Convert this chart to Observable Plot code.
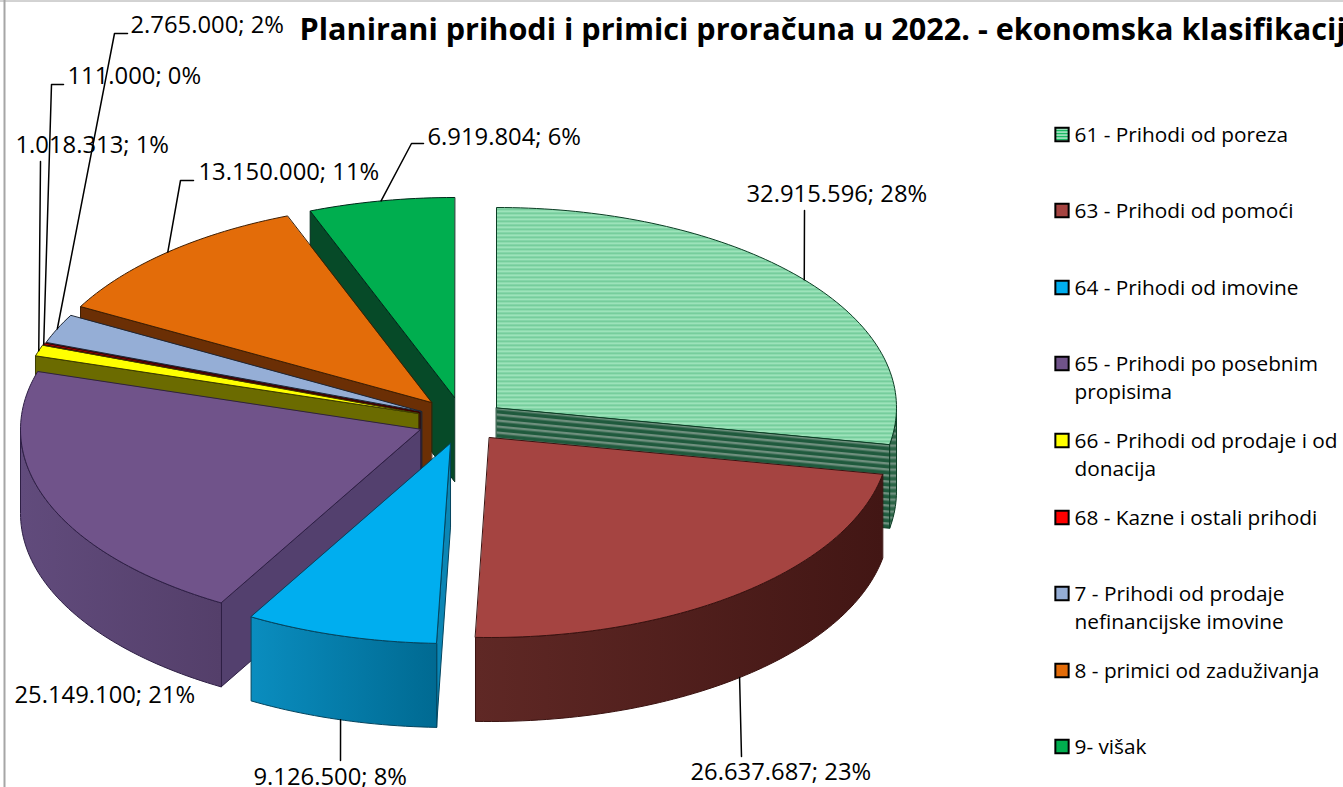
<!DOCTYPE html>
<html>
<head>
<meta charset="utf-8">
<script src="https://cdn.jsdelivr.net/npm/d3@7"></script>
<script src="https://cdn.jsdelivr.net/npm/@observablehq/plot@0.6"></script>
<style>html,body{margin:0;padding:0;background:#fff;overflow:hidden}</style>
</head>
<body>
<div id="chart"></div>
<script>
// ---- data ----
const codes = ["61","63","64","65","66","68","7","8","9"];
const values = [32915596,26637687,9126500,25149100,1018313,111000,2765000,13150000,6919804];
const valueLabels = ["32.915.596; 28%","26.637.687; 23%","9.126.500; 8%","25.149.100; 21%","1.018.313; 1%","111.000; 0%","2.765.000; 2%","13.150.000; 11%","6.919.804; 6%"];
const legendLabels = ["61 - Prihodi od poreza","63 - Prihodi od pomoći","64 - Prihodi od imovine","65 - Prihodi po posebnim\npropisima","66 - Prihodi od prodaje i od\ndonacija","68 - Kazne i ostali prihodi","7 - Prihodi od prodaje\nnefinancijske imovine","8 - primici od zaduživanja","9- višak"];
const title = "Planirani prihodi i primici proračuna u 2022. - ekonomska klasifikacija";

// ---- style ----
const topFill = ["url(#stripeTop)","#a54441","#00aeef","#70538a","#ffff00","#ff0000","#95aed6","#e36c09","#00ae4f"];
const wallFill = ["url(#stripeWall)","url(#wall63)","url(#wall64)","url(#wall65)","#6b6b00","#400000","#1c2028","#6b2f05","#064a28"];
const cutFill  = ["url(#stripeCut)","#4a1c1a","#0b86b5","#53406e","#6b6b00","#400000","#1c2028","#6b2f05","#064a28"];
const edge     = ["#0b3d24","#3a1210","#04455f","#2e1f45","#3c3c00","#400000","#1d2635","#3f1e02","#00291a"];
const legendFill = ["url(#stripeLegend)","#a54441","#00aeef","#70538a","#ffff00","#ff0000","#95aed6","#e36c09","#00ae4f"];

// ---- layout ----
const rx = 400, ry = 200, depth = 84;
const centerX = [496,489,450,420,418,419,421,431,454];
const centerY = [407,437,443,429,413,412,411,402,397];
const paintOrder = [8,7,6,5,4,3,2,0,1];
const labelX = [746,690,253,14,15,67,130,198,427];
const labelY = [194,772,776.5,695,145,76,25,172,137];
const elbowX = [804,741,340,null,40,51,114,180,411];
const elbowY = [210,756,760,null,161,84,33,180,143];
const stubX  = [null,null,null,null,null,63,127,193,423];
const onFront = [false,true,true,false,false,false,false,false,false];
const legendY = [134,210,287,363,440,517,593,670,746];
const fontFamily = "'Open Sans', sans-serif";

// ---- geometry derived from the values ----
const arcs = d3.pie().sort(null)(values);
const rim = (i, a, down = 0) => [centerX[i] + rx * Math.sin(a), centerY[i] - ry * Math.cos(a) + down];
const faces = [];
const addFace = (id, pts, fill, stroke) => pts.forEach(([x, y]) => faces.push({id, x, y, fill, stroke}));
const arcAngles = (a0, a1) => {
  const n = Math.max(2, Math.ceil((a1 - a0) / 0.02));
  return d3.range(n + 1).map(k => a0 + (a1 - a0) * k / n);
};
const faceUp = n => -Math.cos(n) > 0;   // a wall whose outward normal points to the viewer
for (const i of paintOrder) {
  const {startAngle: a0, endAngle: a1} = arcs[i];
  const apex = [centerX[i], centerY[i]], low = [centerX[i], centerY[i] + depth];
  if (faceUp(a0 - Math.PI / 2)) addFace(`c0${i}`, [apex, rim(i, a0), rim(i, a0, depth), low], cutFill[i], edge[i]);
  if (faceUp(a1 + Math.PI / 2)) addFace(`c1${i}`, [apex, rim(i, a1), rim(i, a1, depth), low], cutFill[i], edge[i]);
  // outer wall: only the front half of the ellipse is ever seen
  const f0 = Math.max(a0, Math.PI / 2), f1 = Math.min(a1, 3 * Math.PI / 2);
  if (f1 > f0) {
    const front = arcAngles(f0, f1);
    addFace(`w${i}`, [...front.map(a => rim(i, a)), ...front.slice().reverse().map(a => rim(i, a, depth))], wallFill[i], edge[i]);
  }
  addFace(`t${i}`, [apex, ...arcAngles(a0, a1).map(a => rim(i, a))], topFill[i], edge[i]);
}

// leaders run from the middle of each slice's visible rim to the label
const leaders = [];
codes.forEach((c, i) => {
  if (elbowX[i] == null) return;
  const mid = (arcs[i].startAngle + arcs[i].endAngle) / 2;
  const pts = [rim(i, mid, onFront[i] ? depth : 0), [elbowX[i], elbowY[i]]];
  if (stubX[i] != null) pts.push([stubX[i], elbowY[i]]);
  pts.forEach(([x, y]) => leaders.push({id: c, x, y}));
});

const labels = codes.map((c, i) => ({text: valueLabels[i], x: labelX[i], y: labelY[i]}));
const legend = codes.map((c, i) => ({text: legendLabels[i], y: legendY[i], fill: legendFill[i]}));

const defs = () => d3.create("svg:defs").html(`
  <pattern id="stripeTop" width="4" height="4" patternUnits="userSpaceOnUse">
    <rect width="4" height="4" fill="#9de3ba"/><rect width="4" height="1.6" fill="#6cc795"/>
  </pattern>
  <pattern id="stripeWall" width="6" height="6" patternUnits="userSpaceOnUse">
    <rect width="6" height="6" fill="#2b6547"/><rect width="6" height="2.4" fill="#6f8f7e"/>
  </pattern>
  <pattern id="stripeCut" width="6" height="6" patternUnits="userSpaceOnUse" patternTransform="skewY(5.4)">
    <rect width="6" height="6" fill="#1f5a3d"/><rect width="6" height="2.4" fill="#6f8f7e"/>
  </pattern>
  <pattern id="stripeLegend" width="3" height="3" patternUnits="userSpaceOnUse">
    <rect width="3" height="3" fill="#00b050"/><rect width="3" height="1.2" fill="#ffffff"/>
  </pattern>
  <linearGradient id="wall63"><stop offset="0" stop-color="#5f2825"/><stop offset="1" stop-color="#421614"/></linearGradient>
  <linearGradient id="wall64"><stop offset="0" stop-color="#0a8dbf"/><stop offset="1" stop-color="#006a92"/></linearGradient>
  <linearGradient id="wall65"><stop offset="0" stop-color="#614b7c"/><stop offset="1" stop-color="#543f6a"/></linearGradient>`).node();

const chart = Plot.plot({
  width: 1343, height: 787,
  marginTop: 0, marginRight: 0, marginBottom: 0, marginLeft: 0,
  style: {background: "#fff", fontFamily},
  x: {domain: [0, 1343], range: [0, 1343], axis: null},
  y: {domain: [0, 787], range: [0, 787], axis: null},
  color: {type: "identity"},
  marks: [
    defs,
    Plot.ruleX([4], {stroke: "#a6a6a6", strokeWidth: 2}),
    Plot.ruleY([0.5], {stroke: "#a6a6a6", strokeWidth: 1}),
    Plot.line(faces, {x: "x", y: "y", z: "id", fill: "fill", stroke: "stroke", strokeWidth: 1, curve: "linear-closed"}),
    Plot.line(leaders, {x: "x", y: "y", z: "id", stroke: "#000", strokeWidth: 1.5, curve: "linear"}),
    Plot.text(labels, {x: "x", y: "y", text: "text", textAnchor: "start", fontSize: 23.8, fill: "#000"}),
    Plot.text([title], {x: [299], y: [30.2], text: d => d, textAnchor: "start", fontSize: 30.6, fontWeight: "bold", fill: "#000"}),
    Plot.dot(legend, {x: () => 1061.5, y: "y", symbol: "square", r: 7.5, fill: "fill", stroke: "#000", strokeWidth: 2}),
    Plot.text(legend, {x: () => 1074, y: "y", dy: -13, text: "text", textAnchor: "start", lineAnchor: "top", fontSize: 20.8, lineHeight: 1.37, fill: "#000"})
  ]
});
document.getElementById("chart").appendChild(chart);
</script>
</body>
</html>
